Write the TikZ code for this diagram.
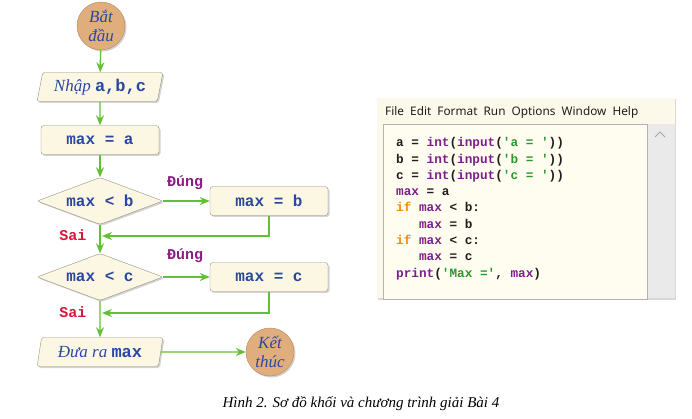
\documentclass[tikz,border=0pt]{standalone}
\usepackage{fontspec}
\setmainfont{Liberation Serif}
\setmonofont{Liberation Mono}
\setsansfont{Noto Sans}
\usetikzlibrary{shapes.geometric, arrows.meta, positioning, calc, shadows}

\definecolor{flowgreen}{RGB}{98, 192, 52}
\definecolor{boxfill}{RGB}{252, 247, 226}
\definecolor{boxline}{RGB}{150, 145, 130}
\definecolor{termfill}{RGB}{224, 174, 124}
\definecolor{termline}{RGB}{180, 135, 92}
\definecolor{labelblue}{RGB}{42, 72, 162}
\definecolor{yespurple}{RGB}{140, 28, 130}
\definecolor{nored}{RGB}{214, 22, 58}
\definecolor{codeblack}{RGB}{30, 30, 30}
\definecolor{codepurple}{RGB}{125, 30, 140}
\definecolor{codegreen}{RGB}{45, 150, 45}
\definecolor{codeorange}{RGB}{240, 140, 30}
\definecolor{menufill}{RGB}{253, 249, 234}
\definecolor{editfill}{RGB}{255, 253, 240}
\definecolor{scrollfill}{RGB}{234, 234, 234}

\newcommand{\mono}[1]{{\ttfamily\bfseries #1}}
\newcommand{\bi}[1]{\textcolor{codepurple}{#1}}
\newcommand{\st}[1]{\textcolor{codegreen}{#1}}
\newcommand{\kw}[1]{\textcolor{codeorange}{#1}}

\tikzset{
  flowshadow/.style={drop shadow={shadow xshift=1.5pt, shadow yshift=-1.5pt, opacity=0.35}},
  terminal/.style={circle, draw=termline, fill=termfill, minimum size=48pt, inner sep=0pt,
    align=center, font=\fontsize{17}{19}\selectfont\itshape, text=labelblue, flowshadow},
  iobox/.style={trapezium, trapezium left angle=74, trapezium right angle=106,
    trapezium stretches=true, draw=boxline, fill=boxfill, rounded corners=2.5pt,
    minimum width=126pt, minimum height=29pt, inner sep=0pt,
    font=\fontsize{17}{19}\selectfont, text=labelblue, flowshadow},
  process/.style={rectangle, draw=boxline, fill=boxfill, rounded corners=3pt,
    minimum width=118pt, minimum height=29pt, inner sep=0pt,
    font=\fontsize{16}{19}\selectfont\ttfamily\bfseries, text=labelblue, flowshadow},
  decision/.style={diamond, aspect=2.7, draw=boxline, fill=boxfill, rounded corners=2.5pt,
    minimum width=126pt, minimum height=47pt, inner sep=0pt,
    font=\fontsize{16}{19}\selectfont\ttfamily\bfseries, text=labelblue, flowshadow},
  flow/.style={draw=flowgreen, line width=1.4pt, -{Stealth[length=10pt, width=8pt]}},
  yeslabel/.style={font=\fontsize{15}{17}\selectfont\ttfamily\bfseries, text=yespurple},
  nolabel/.style={font=\fontsize{15}{17}\selectfont\ttfamily\bfseries, text=nored},
  codetext/.style={anchor=base west, inner sep=0pt,
    font=\fontsize{12.7}{15}\selectfont\ttfamily\bfseries, text=codeblack},
}

\begin{document}
\begin{tikzpicture}[x=1pt, y=-1pt]
  \useasboundingbox (0, 0) rectangle (692, 419);

  % Flowchart
  \node[terminal] (start) at (101, 26) {Bắt\\đầu};
  \node[iobox] (input) at (100, 87) {\textit{Nhập} \mono{a,b,c}};
  \node[process] (maxa) at (100, 140) {max = a};
  \node[decision] (cond1) at (100, 201) {max < b};
  \node[process] (maxb) at (269, 201) {max = b};
  \node[decision] (cond2) at (100, 277) {max < c};
  \node[process] (maxc) at (269, 277) {max = c};
  \node[iobox] (output) at (100, 352) {\textit{Đưa ra} \mono{max}};
  \node[terminal] (stop) at (270, 352) {Kết\\thúc};

  \coordinate (merge1) at (102, 236);
  \coordinate (merge2) at (102, 313);

  \draw[flow] (start) -- (input);
  \draw[flow] (input) -- (maxa);
  \draw[flow] (maxa) -- (cond1);
  \draw[flow] (cond1.east) -- (maxb.west);
  \draw[flow] (maxb.south) |- (merge1);
  \draw[flow] (cond1.south) -- (cond2.north);
  \draw[flow] (cond2.east) -- (maxc.west);
  \draw[flow] (maxc.south) |- (merge2);
  \draw[flow] (cond2.south) -- (output.north);
  \draw[flow] (output.east) -- (stop.west);

  \node[yeslabel] (yes1) at (185, 183) {Đúng};
  \node[nolabel] (no1) at (73, 235) {Sai};
  \node[yeslabel] (yes2) at (185, 256) {Đúng};
  \node[nolabel] (no2) at (73, 312) {Sai};

  % Code window
  \fill[menufill, drop shadow={shadow xshift=1pt, shadow yshift=-1.5pt, opacity=0.3}]
    (377, 98) rectangle (675, 298);
  \fill[scrollfill] (647, 124) rectangle (675, 298);
  \draw[gray!60, fill=editfill] (383, 124) rectangle (647, 299);
  \draw[gray!70, line width=1pt] (655, 137) -- (660, 132) -- (665, 137);
  \node[anchor=base west, inner sep=0pt, font=\sffamily\fontsize{11.8}{13}\selectfont, text=codeblack]
    (menu) at (385, 116) {File\ \ Edit\ \ Format\ \ Run\ \ Options\ \ Window\ \ Help};

  \foreach \codeline [count=\i] in {
      {a = \bi{int}(\bi{input}(\st{'a = '}))},
      {b = \bi{int}(\bi{input}(\st{'b = '}))},
      {c = \bi{int}(\bi{input}(\st{'c = '}))},
      {\bi{max} = a},
      {\kw{if} \bi{max} < b:},
      {\ \ \ \bi{max} = b},
      {\kw{if} \bi{max} < c:},
      {\ \ \ \bi{max} = c},
      {\bi{print}(\st{'Max ='}, \bi{max})}} {
    \node[codetext] (line\i) at (396, {147 + 16.25*(\i - 1)}) {\codeline};
  }

  % Caption
  \node[font=\fontsize{15}{17}\selectfont\itshape] (caption) at (361, 404)
    {Hình 2. Sơ đồ khối và chương trình giải Bài 4};
\end{tikzpicture}
\end{document}
